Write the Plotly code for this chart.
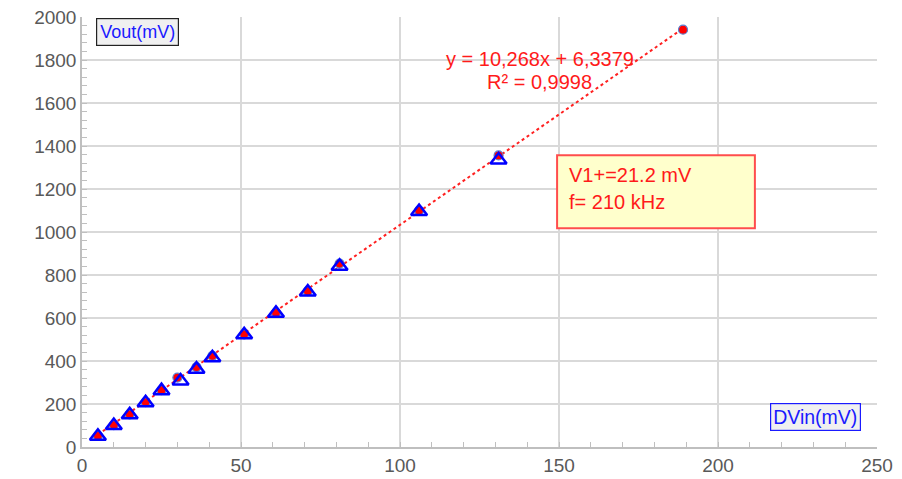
import plotly.graph_objects as go

dvin = [5, 10, 15, 20, 25, 30, 36, 41, 51, 61, 71, 81, 106, 131, 189]
vout_circle = [52, 102, 152, 209, 264, 323, 372, 424, 524, 624, 725, 853, 1100, 1356, 1941]
dvin_tri = [5, 10, 15, 20, 25, 31, 36, 41, 51, 61, 71, 81, 106, 131]
vout_tri = [50, 100, 150, 206, 262, 307, 362, 415, 522, 622, 721, 841, 1095, 1335]

# Trendline coefficients shown on the chart
slope = 10.268
intercept = 6.3379
trend_x = [dvin[0], dvin[-1]]
trend_y = [slope * v + intercept for v in trend_x]

x_ticks = [0, 50, 100, 150, 200, 250]
y_ticks = [0, 200, 400, 600, 800, 1000, 1200, 1400, 1600, 1800, 2000]

fig = go.Figure()

fig.add_trace(go.Scatter(
    x=trend_x, y=trend_y, mode="lines",
    line=dict(color="#ff2020", width=2, dash="dot"),
    hoverinfo="skip", showlegend=False))

fig.add_trace(go.Scatter(
    x=dvin, y=vout_circle, mode="markers",
    marker=dict(symbol="circle", size=9, color="#ff0000",
                line=dict(color="#5b7fd0", width=1.2)),
    showlegend=False))

fig.add_trace(go.Scatter(
    x=dvin_tri, y=vout_tri, mode="markers",
    marker=dict(symbol="triangle-up-open", size=14, color="#0000ff",
                line=dict(color="#0000ff", width=2.5)),
    showlegend=False))

red = "#ff1a1a"
font_family = "Liberation Sans, Arial, sans-serif"

fig.add_shape(type="rect", xref="x", yref="y",
              x0=149.4, x1=211.6, y0=1017, y1=1357,
              fillcolor="#ffffcc", line=dict(color="#ff4d4d", width=2),
              layer="above")

annotations = [
    dict(x=144, y=1805, text="y = 10,268x + 6,3379", showarrow=False,
         font=dict(color=red, size=20, family=font_family), xanchor="center", yanchor="middle"),
    dict(x=144, y=1698, text="R² = 0,9998", showarrow=False,
         font=dict(color=red, size=20, family=font_family), xanchor="center", yanchor="middle"),
    dict(x=152.5, y=1264, text="V1+=21.2 mV", showarrow=False,
         font=dict(color=red, size=20, family=font_family), xanchor="left", yanchor="middle"),
    dict(x=152.5, y=1138, text="f= 210 kHz", showarrow=False,
         font=dict(color=red, size=20, family=font_family), xanchor="left", yanchor="middle"),
    dict(x=4.5, y=1930, text="Vout(mV)", showarrow=False,
         font=dict(color="#1a1aff", size=18, family=font_family),
         xanchor="left", yanchor="middle", bgcolor="#f0f0f0",
         bordercolor="#222222", borderwidth=1.2, borderpad=3),
    dict(x=245, y=140, text="DVin(mV)", showarrow=False,
         font=dict(color="#1a1aff", size=19.5, family=font_family),
         xanchor="right", yanchor="middle", bgcolor="#f0f0f0",
         bordercolor="#1a1aff", borderwidth=1.2, borderpad=2),
]

fig.update_layout(
    width=894, height=471,
    margin=dict(l=74, r=25, t=9, b=32),
    paper_bgcolor="white", plot_bgcolor="white",
    font=dict(family=font_family, color="#595959", size=19),
    annotations=annotations,
    showlegend=False,
)

fig.update_xaxes(
    range=[0, 250], tickvals=x_ticks, ticktext=[str(v) for v in x_ticks],
    showgrid=True, gridcolor="#d9d9d9", gridwidth=1.5,
    showline=True, linecolor="#bfbfbf", linewidth=1.5,
    ticks="inside", ticklen=5, tickcolor="#bfbfbf",
    minor=dict(dtick=10, ticks="inside", ticklen=5, tickcolor="#bfbfbf", showgrid=False),
    zeroline=False, tickfont=dict(size=19, color="#595959"), fixedrange=True,
    automargin=False, ticklabeloverflow="allow",
)
fig.update_yaxes(
    range=[0, 2000], tickvals=y_ticks, ticktext=[str(v) for v in y_ticks],
    showgrid=True, gridcolor="#d9d9d9", gridwidth=1.5,
    showline=True, linecolor="#bfbfbf", linewidth=1.5,
    ticks="inside", ticklen=5, tickcolor="#bfbfbf",
    minor=dict(dtick=40, ticks="inside", ticklen=5, tickcolor="#bfbfbf", showgrid=False),
    zeroline=False, tickfont=dict(size=19, color="#595959"), fixedrange=True,
    automargin=False, ticklabeloverflow="allow",
)

fig.write_html("out.html")
